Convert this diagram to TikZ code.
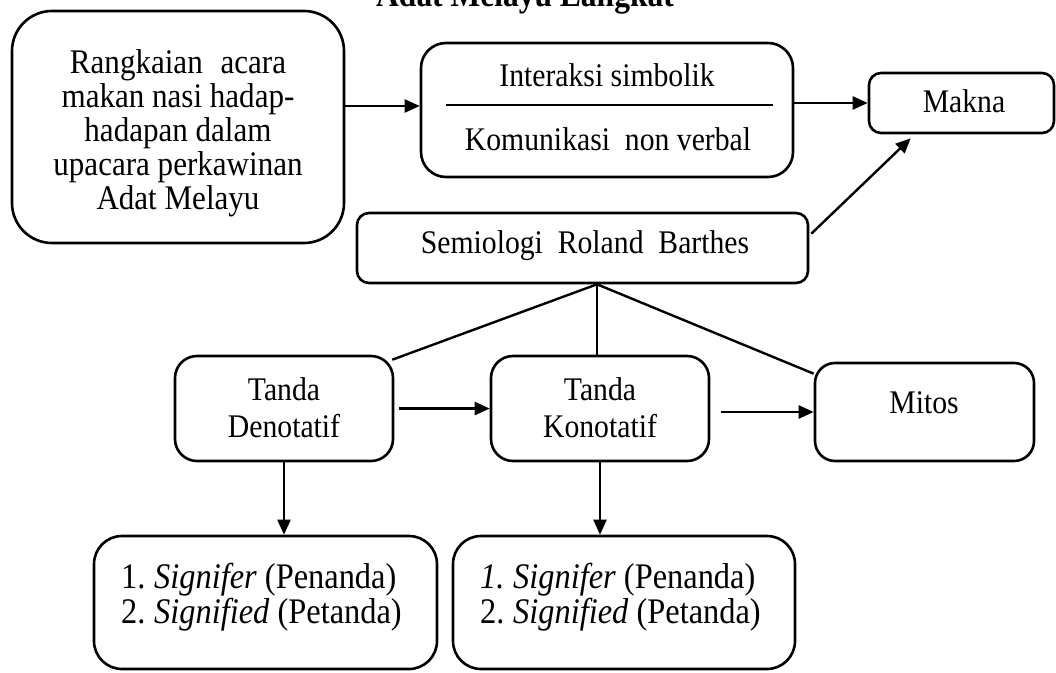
\documentclass[tikz,border=0pt]{standalone}
\usepackage{fontspec}
\setmainfont{Liberation Serif}
\newfontfamily\cond{Liberation Serif}[FakeStretch=0.9]
\usetikzlibrary{arrows.meta,calc}
\begin{document}
\begin{tikzpicture}[x=1pt,y=-1pt,
  box/.style={draw, line width=2.6pt, rectangle, inner sep=0pt},
  arr/.style={line width=2.4pt, -{Triangle[length=15pt,width=13pt]}},
  conn/.style={line width=2.4pt},
  txt/.style={font=\cond\fontsize{33}{37}\selectfont, inner sep=0pt},
  bigtxt/.style={font=\cond\fontsize{34.5}{34}\selectfont, inner sep=0pt},
  listtxt/.style={font=\cond\fontsize{36}{35}\selectfont, inner sep=0pt},
]
\useasboundingbox (0,0) rectangle (1056,672);

% title (cut off at the top)
\node[font=\cond\fontsize{35}{36}\selectfont\bfseries, inner sep=0pt, anchor=base] (title) at (525,6) {Adat Melayu Langkat};

% boxes
\node[box, rounded corners=40pt, minimum width=332pt, minimum height=232pt] (A) at (178,127) {};
\node[box, rounded corners=25pt, minimum width=372pt, minimum height=134pt] (B) at (607,110) {};
\node[box, rounded corners=12pt, minimum width=185pt, minimum height=60pt] (M) at (961.5,103) {};
\node[box, rounded corners=12pt, minimum width=451pt, minimum height=70pt] (Sem) at (582.5,248) {};
\node[box, rounded corners=22pt, minimum width=218pt, minimum height=105pt] (Den) at (284,408.5) {};
\node[box, rounded corners=22pt, minimum width=218pt, minimum height=105pt] (Kon) at (600,408.5) {};
\node[box, rounded corners=20pt, minimum width=219pt, minimum height=98pt] (Mit) at (924.5,412) {};
\node[box, rounded corners=28pt, minimum width=343pt, minimum height=133pt] (S1) at (265.5,602.5) {};
\node[box, rounded corners=28pt, minimum width=342pt, minimum height=133pt] (S2) at (624,602.5) {};

% texts
\node[bigtxt, anchor=base] (tA) at (178,73) {\begin{tabular}[t]{@{}c@{}}Rangkaian\hspace{10pt} acara\\makan nasi hadap-\\hadapan dalam\\upacara perkawinan\\Adat Melayu\end{tabular}};
\node[txt, anchor=base] (tI) at (607,86) {Interaksi simbolik};
\node[txt, anchor=base] (tK) at (608,150) {Komunikasi\ \ non verbal};
\node[txt, anchor=base] (tM) at (964,112) {Makna};
\node[txt, anchor=base] (tS) at (585,253) {Semiologi\ \ Roland\ \ Barthes};
\node[txt, anchor=base] (tD) at (284,400) {\begin{tabular}[t]{@{}c@{}}Tanda\\Denotatif\end{tabular}};
\node[txt, anchor=base] (tKo) at (600,400) {\begin{tabular}[t]{@{}c@{}}Tanda\\Konotatif\end{tabular}};
\node[txt, anchor=base] (tMi) at (924,413) {Mitos};
\node[listtxt, anchor=base west] (tL1) at (121,588) {\begin{tabular}[t]{@{}l@{}}\makebox[33pt][l]{1.}\textit{Signifer} (Penanda)\\\makebox[33pt][l]{2.}\textit{Signified} (Petanda)\end{tabular}};
\node[listtxt, anchor=base west] (tL2) at (480,588) {\begin{tabular}[t]{@{}l@{}}\makebox[33pt][l]{\textit{1.}}\textit{Signifer} (Penanda)\\\makebox[33pt][l]{2.}\textit{Signified} (Petanda)\end{tabular}};

% separator inside B
\coordinate (sepL) at ($(B.west)+(26,-5)$);
\coordinate (sepR) at ($(B.east)+(-21,-5)$);
\draw[line width=2pt] (sepL) -- (sepR);

% arrows
\draw[arr] ([yshift=21pt]A.east) -- ([yshift=21pt]A.east -| B.west);
\draw[arr] (M.west -| B.east) -- (M.west);
\draw[arr] ([xshift=5pt]Den.east) -- (Kon.west |- Den.east);
\draw[arr] ([xshift=11pt]Kon.east |- Mit.west) -- (Mit.west);
\draw[arr] (Den.south) -- (S1.north -| Den.south);
\draw[arr] (Kon.south) -- (S2.north -| Kon.south);
\coordinate (semR) at ($(Sem.north east)+(2,22)$);
\coordinate (makB) at ($(M.south west)+(43,4)$);
\draw[arr] (semR) -- (makB);

% tree lines from Semiologi
\coordinate (apex) at ($(Sem.south)+(14.5,0)$);
\coordinate (denC) at ($(Den.north east)+(-2,5)$);
\coordinate (mitC) at ($(Mit.north west)+(0,12)$);
\draw[conn] (apex) -- (denC);
\draw[conn] (apex) -- (apex |- Kon.north);
\draw[conn] (apex) -- (mitC);
\end{tikzpicture}
\end{document}
